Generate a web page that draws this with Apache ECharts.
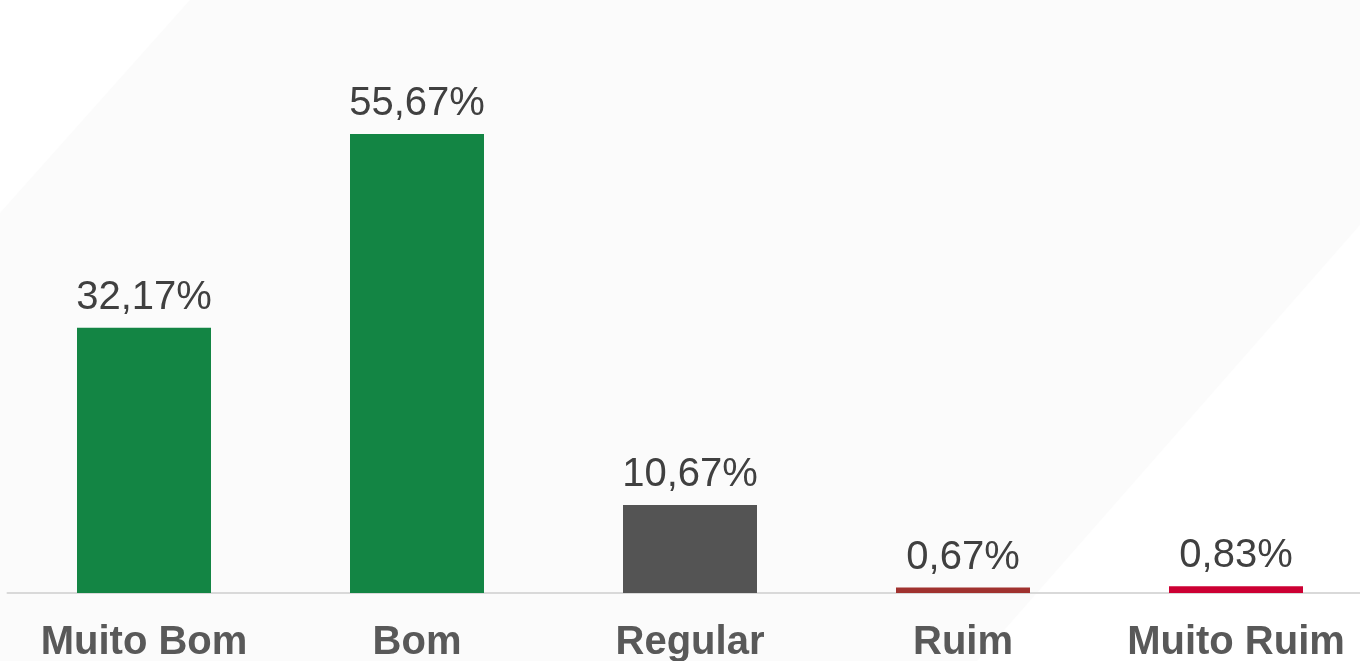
<!DOCTYPE html>
<html><head><meta charset="utf-8">
<script src="https://cdn.jsdelivr.net/npm/echarts@6/dist/echarts.min.js"></script>
<style>html,body{margin:0;padding:0;background:#fff;overflow:hidden;}#c{width:1373px;height:661px;}</style>
</head><body><div id="c"></div>
<script>
const categories = ['Muito Bom', 'Bom', 'Regular', 'Ruim', 'Muito Ruim'];
const values = [32.17, 55.67, 10.67, 0.67, 0.83];
const barColors = ['#138544', '#138544', '#545454', '#a0322f', '#cc0033'];

const chart = echarts.init(document.getElementById('c'), null, {renderer: 'canvas'});
chart.setOption({
  backgroundColor: '#ffffff',
  animation: false,
  graphic: [{
    type: 'polygon', z: -10, silent: true,
    shape: {points: [[190, 0], [1373, 0], [1373, 210], [977, 661], [0, 661], [0, 213]]},
    style: {fill: '#fbfbfb'}
  }],
  grid: {left: 7.5, right: 0.5, top: 98.3, bottom: 68, containLabel: false, outerBoundsMode: 'none'},
  xAxis: {
    type: 'category', data: categories,
    axisLine: {lineStyle: {color: '#d9d9d9', width: 2}},
    axisTick: {show: false},
    axisLabel: {interval: 0, color: '#595959', fontFamily: 'Liberation Sans, Arial, sans-serif', fontWeight: 'bold', fontSize: 40, margin: 30}
  },
  yAxis: {type: 'value', min: 0, max: 60, show: false, splitLine: {show: false}},
  series: [{
    type: 'bar', barWidth: 134,
    data: values.map((v, i) => ({value: v, itemStyle: {color: barColors[i]}})),
    label: {
      show: true, position: 'top', distance: 10,
      color: '#404040', fontFamily: 'Liberation Sans, Arial, sans-serif', fontSize: 40,
      formatter: p => p.value.toFixed(2).replace('.', ',') + '%'
    }
  }]
});
</script></body></html>
